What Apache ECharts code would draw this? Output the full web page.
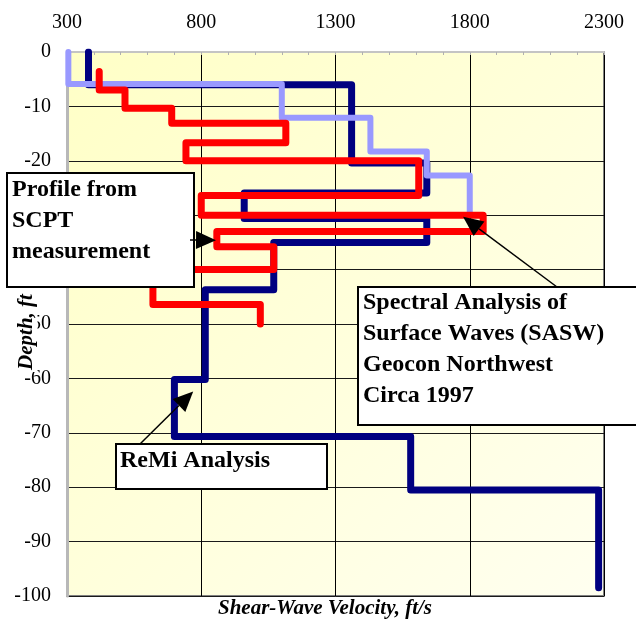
<!DOCTYPE html>
<html>
<head>
<meta charset="utf-8">
<script src="https://cdn.jsdelivr.net/npm/echarts@6/dist/echarts.min.js"></script>
<style>
  html, body { margin: 0; padding: 0; background: #ffffff; }
  #chart { width: 636px; height: 622px; }
</style>
</head>
<body>
<div id="chart"></div>
<script>
// Axis ticks
const velocityTicks = [300, 800, 1300, 1800, 2300];
const depthTicks = [0, -10, -20, -30, -40, -50, -60, -70, -80, -90, -100];

// ReMi analysis profile (velocity ft/s, depth ft), step vertices
const remiVelocity = [380, 380, 1360, 1360, 1640, 1640, 960, 960, 1640, 1640, 1070, 1070, 815, 815, 700, 700, 1580, 1580, 2280, 2280];
const remiDepth    = [0, -6, -6, -20.4, -20.4, -25.9, -25.9, -30.6, -30.6, -35, -35, -43.7, -43.7, -60.2, -60.2, -70.7, -70.7, -80.5, -80.5, -98.5];

// SASW profile (Geocon Northwest, circa 1997)
const saswVelocity = [305, 305, 1100, 1100, 1430, 1430, 1640, 1640, 1800, 1800];
const saswDepth    = [0, -5.9, -5.9, -12.1, -12.1, -18.3, -18.3, -22.7, -22.7, -29.5];

// SCPT measurement profile
const scptVelocity = [420, 420, 516, 516, 690, 690, 1115, 1115, 743, 743, 1610, 1610, 800, 800, 1850, 1850, 858, 858, 1070, 1070, 620, 620, 1020, 1020];
const scptDepth    = [-3.6, -7, -7, -10.35, -10.35, -13.1, -13.1, -16.7, -16.7, -20, -20, -26.4, -26.4, -30, -30, -33, -33, -35.8, -35.8, -40, -40, -46.4, -46.4, -50];

function pairs(xs, ys) { return xs.map((x, i) => [x, ys[i]]); }

const serifFont = '"Liberation Serif", "Times New Roman", serif';

const chart = echarts.init(document.getElementById('chart'), null, { renderer: 'canvas' });

function stepSeries(name, xs, ys, color, width, z) {
  return {
    name: name,
    type: 'line',
    data: pairs(xs, ys),
    showSymbol: false,
    symbol: 'none',
    z: z,
    lineStyle: { color: color, width: width, cap: 'round', join: 'round' },
    animation: false
  };
}

const plainNumber = v => String(v);

const option = {
  animation: false,
  backgroundColor: '#ffffff',
  grid: {
    left: 67, top: 52, right: 32, bottom: 26,
    show: true,
    borderColor: '#808080',
    borderWidth: 2,
    backgroundColor: {
      type: 'linear', x: 0, y: 0, x2: 1, y2: 1,
      colorStops: [
        { offset: 0, color: '#ffffc6' },
        { offset: 1, color: '#fffff0' }
      ]
    }
  },
  xAxis: {
    type: 'value',
    position: 'top',
    min: velocityTicks[0],
    max: velocityTicks[velocityTicks.length - 1],
    interval: velocityTicks[1] - velocityTicks[0],
    axisLine: { show: true, lineStyle: { color: '#c4c4c4', width: 2 } },
    axisTick: { show: true, inside: true, length: 3, lineStyle: { color: '#b0b0b0' } },
    minorTick: { show: true, splitNumber: 5, length: 3, lineStyle: { color: '#b0b0b0' } },
    axisLabel: { color: '#000', fontFamily: serifFont, fontSize: 20, margin: 19, formatter: plainNumber },
    splitLine: { show: true, lineStyle: { color: '#000', width: 1 } }
  },
  yAxis: {
    type: 'value',
    min: depthTicks[depthTicks.length - 1],
    max: depthTicks[0],
    interval: depthTicks[0] - depthTicks[1],
    axisLine: { show: true, lineStyle: { color: '#b8b8b8', width: 3 } },
    axisTick: { show: false },
    axisLabel: { color: '#000', fontFamily: serifFont, fontSize: 20, margin: 16, formatter: plainNumber },
    splitLine: { show: true, lineStyle: { color: '#1a1a1a', width: 1 } }
  },
  series: [
    stepSeries('ReMi Analysis', remiVelocity, remiDepth, '#000080', 7, 2),
    stepSeries('SASW', saswVelocity, saswDepth, '#9999ff', 6, 3),
    stepSeries('SCPT', scptVelocity, scptDepth, '#ff0000', 7, 4)
  ]
};

chart.setOption(option);

// Callout arrows: line from a box edge to a point on a profile
function arrow(fromPx, tipData) {
  const tip = chart.convertToPixel({ gridIndex: 0 }, tipData);
  const dx = tip[0] - fromPx[0], dy = tip[1] - fromPx[1];
  const len = Math.sqrt(dx * dx + dy * dy);
  const ux = dx / len, uy = dy / len;
  const headLen = 20, halfW = 9;
  const bx = tip[0] - ux * headLen, by = tip[1] - uy * headLen;
  return [
    {
      type: 'line', z: 100,
      shape: { x1: fromPx[0], y1: fromPx[1], x2: bx, y2: by },
      style: { stroke: '#000', lineWidth: 1.5 }
    },
    {
      type: 'polygon', z: 100,
      shape: { points: [tip, [bx - uy * halfW, by + ux * halfW], [bx + uy * halfW, by - ux * halfW]] },
      style: { fill: '#000' }
    }
  ];
}

function box(x, y, w, h) {
  return {
    type: 'rect', z: 90,
    shape: { x: x, y: y, width: w, height: h },
    style: { fill: '#ffffff', stroke: '#000', lineWidth: 2 }
  };
}

function label(x, y, text) {
  return {
    type: 'text', z: 110, x: x, y: y,
    style: {
      text: text, fill: '#000',
      font: 'bold 24px ' + serifFont,
      align: 'left', verticalAlign: 'middle'
    }
  };
}

const graphics = [
  // SCPT callout
  box(7, 173, 187, 114),
  label(12, 190, 'Profile from'),
  label(12, 221, 'SCPT'),
  label(12, 252, 'measurement'),
  // SASW callout
  box(358, 287, 290, 138),
  label(363, 303, 'Spectral Analysis of'),
  label(363, 334, 'Surface Waves (SASW)'),
  label(363, 365, 'Geocon Northwest'),
  label(363, 396, 'Circa 1997'),
  // ReMi callout
  box(116, 444, 211, 45),
  label(120, 461, 'ReMi Analysis'),
  // Axis titles
  {
    type: 'text', z: 80, x: 27, y: 332, rotation: Math.PI / 2,
    style: {
      text: 'Depth, ft', fill: '#000',
      font: 'italic bold 21px ' + serifFont,
      align: 'center', verticalAlign: 'middle',
      backgroundColor: '#ffffff', padding: [0, 2]
    }
  },
  {
    type: 'text', z: 80, x: 325, y: 609,
    style: {
      text: 'Shear-Wave Velocity, ft/s', fill: '#000',
      font: 'italic bold 21px ' + serifFont,
      align: 'center', verticalAlign: 'middle'
    }
  }
]
  .concat(arrow([190, 240], [855, -34.6]))
  .concat(arrow([557, 287], [1775, -30.3]))
  .concat(arrow([140, 444], [770, -62.4]));

chart.setOption({ graphic: graphics });
</script>
</body>
</html>
